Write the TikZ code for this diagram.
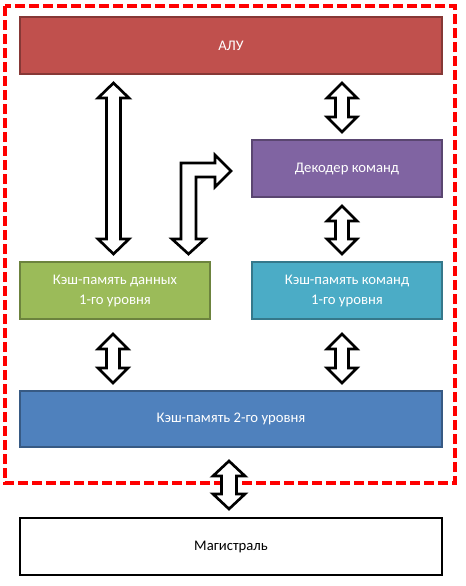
\documentclass[tikz,border=0pt]{standalone}
\usepackage{fontspec}
\setmainfont{Carlito}
\begin{document}
\begin{tikzpicture}[x=0.75pt,y=-0.75pt,
  blk/.style={draw=#1!70!black, fill=#1, line width=1.9pt, anchor=north west,
    inner sep=0pt, outer sep=0pt, text=white, align=center,
    font=\fontsize{11}{15}\selectfont},
  blockarrow/.style={draw=black, fill=white, line width=2pt, line join=miter},
  frame/.style={draw=red, line width=2.3pt, dash pattern=on 7.5pt off 3pt}]
\definecolor{cred}{HTML}{C0504D}
\definecolor{cpurple}{HTML}{8064A2}
\definecolor{cgreen}{HTML}{9BBB59}
\definecolor{cteal}{HTML}{4BACC6}
\definecolor{cblue}{HTML}{4F81BD}
\newcommand\vdarrow[5]{%
  \draw[blockarrow, shift={(#1)}] (0,0) -- (#4,#5) -- (#3,#5) -- (#3,#2-#5) -- (#4,#2-#5) -- (0,#2)
    -- (-#4,#2-#5) -- (-#3,#2-#5) -- (-#3,#5) -- (-#4,#5) -- cycle;}
\useasboundingbox (0,0) rectangle (465,586);
\draw[frame] (5,6) rectangle (455,483);
\node[blk=cred, minimum width=422*0.75pt, minimum height=57*0.75pt] (alu) at (20,17) {АЛУ};
\node[blk=cpurple, minimum width=190*0.75pt, minimum height=57*0.75pt] (dec) at (252,140) {Декодер команд};
\node[blk=cgreen, minimum width=190*0.75pt, minimum height=57*0.75pt] (cd1) at (20,262) {Кэш-память данных\\1-го уровня};
\node[blk=cteal, minimum width=190*0.75pt, minimum height=57*0.75pt] (ci1) at (252,262) {Кэш-память команд\\1-го уровня};
\node[blk=cblue, minimum width=422*0.75pt, minimum height=56*0.75pt] (l2) at (20,391) {Кэш-память 2-го уровня};
\node[blk=white, draw=black, text=black, minimum width=422*0.75pt, minimum height=57*0.75pt] (bus) at (20,518) {Магистраль};
\coordinate (a1) at (113.5,83);
\coordinate (a2) at (342,83);
\coordinate (a3) at (342,206);
\coordinate (a4) at (113,334);
\coordinate (a5) at (342,334);
\coordinate (a6) at (229,461);
\vdarrow{a1}{171}{7}{15.5}{15}
\vdarrow{a2}{49}{6.5}{15}{15}
\vdarrow{a3}{48}{6.5}{15}{15}
\vdarrow{a4}{49}{6.5}{15}{15}
\vdarrow{a5}{49}{6.5}{15}{15}
\vdarrow{a6}{48}{7.5}{16}{15}
\draw[blockarrow] (188.5,254) -- (205,239) -- (196,239) -- (196,177) -- (215,177) -- (215,187)
  -- (231,171) -- (215,155) -- (215,163) -- (181,163) -- (181,239) -- (172,239) -- cycle;
\end{tikzpicture}
\end{document}
